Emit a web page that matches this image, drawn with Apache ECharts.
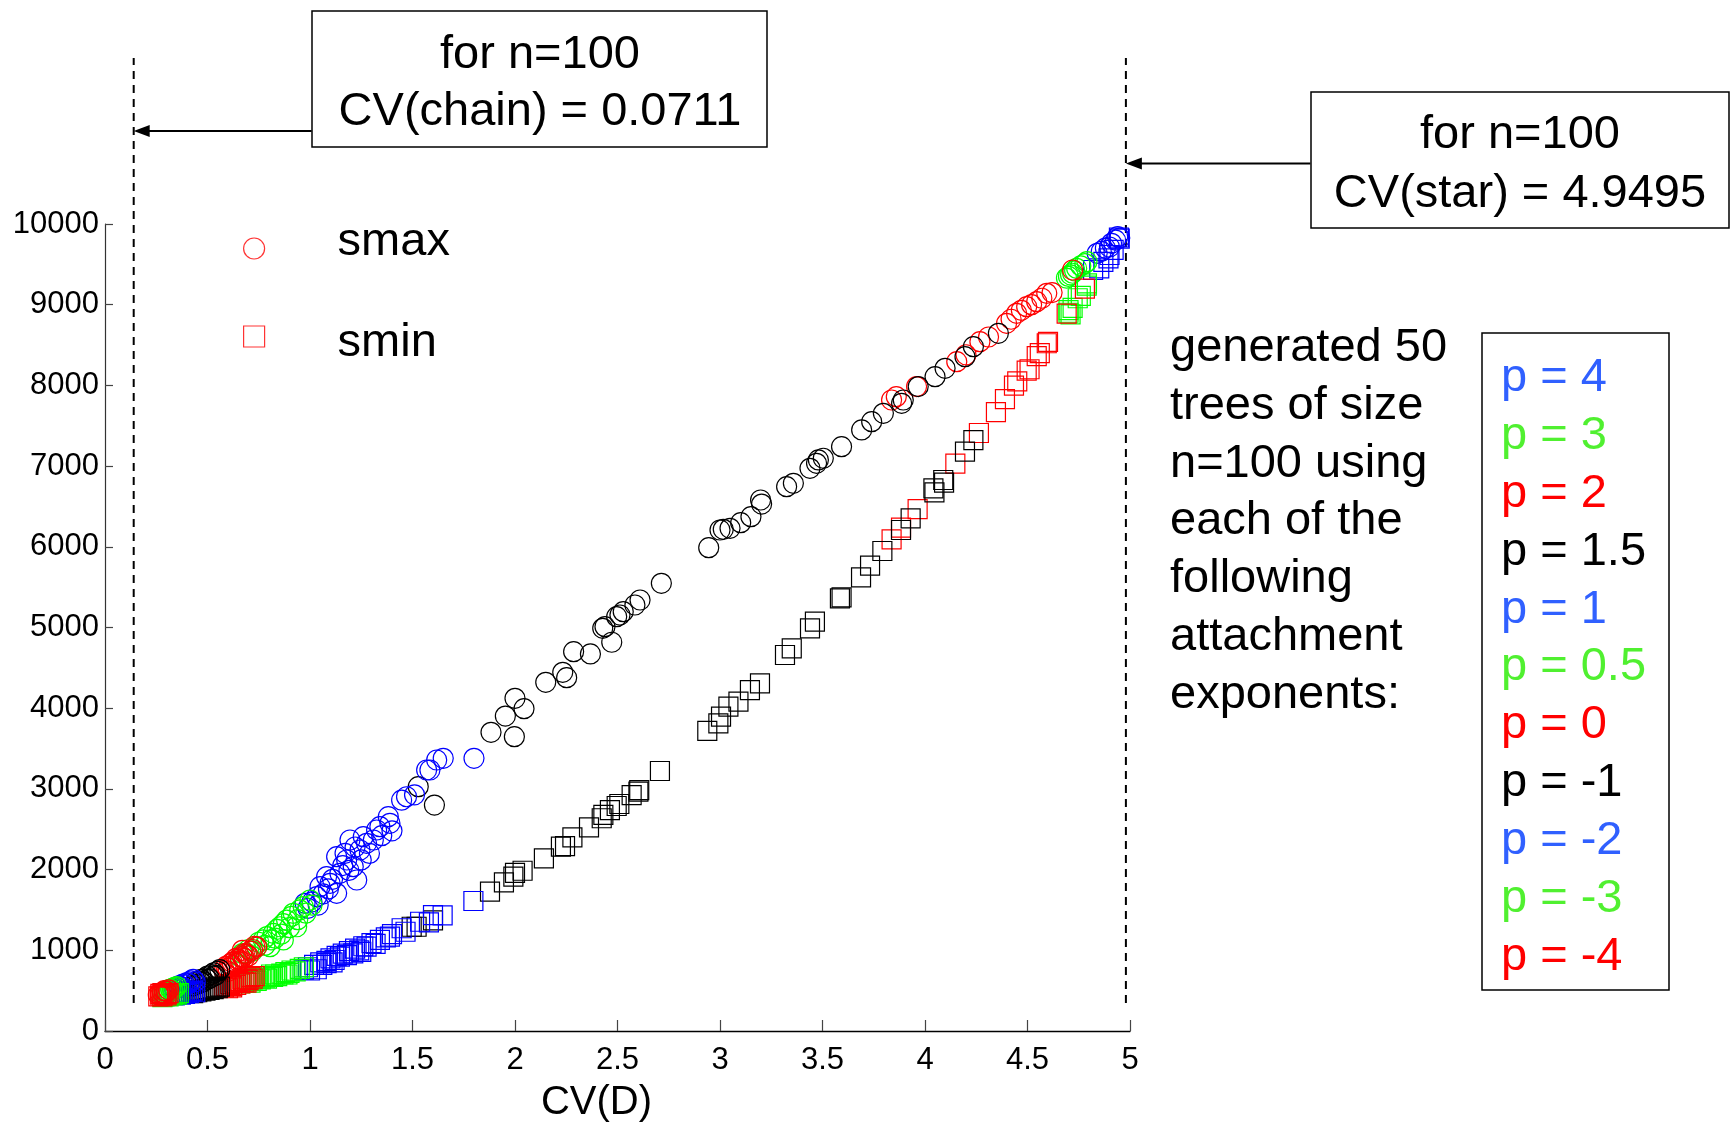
<!DOCTYPE html>
<html>
<head>
<meta charset="utf-8">
<title>smax / smin against CV(D)</title>
<script src="https://cdn.jsdelivr.net/npm/echarts@6/dist/echarts.min.js"></script>
<style>
  html, body { margin: 0; padding: 0; background: #fff; }
  #main { width: 1731px; height: 1128px; }
</style>
</head>
<body>
<div id="main"></div>
<script>
// attachment exponents, in plotting order
const exponents = ['4', '3', '2', '1.5', '1', '0.5', '0', '-1', '-2', '-3', '-4']
const markColors = ['#0000ff', '#00ff00', '#ff0000', '#000000', '#0000ff', '#00ff00', '#ff0000', '#000000', '#0000ff', '#00ff00', '#ff0000']
const textColors = ['#3060ff', '#50f030', '#ff0000', '#000000', '#3060ff', '#50f030', '#ff0000', '#000000', '#3060ff', '#50f030', '#ff0000']

// [CV(D), s]
const smaxP4 = [[4.84,9637],[4.86,9660],[4.88,9700],[4.90,9715],[4.91,9760],[4.93,9800],[4.94,9843],[4.95,9826]]
const sminP4 = [[4.82,9430],[4.85,9451],[4.87,9530],[4.895,9575],[4.90,9616],[4.92,9680],[4.946,9833],[4.95,9820]]

const smaxP3 = [[4.69,9330],[4.70,9350],[4.71,9370],[4.72,9390],[4.73,9420],[4.74,9450],[4.76,9480],[4.78,9510],[4.79,9533]]
const sminP3 = [[4.70,8900],[4.70,8934],[4.71,8880],[4.72,8960],[4.745,9080],[4.76,9110],[4.789,9236],[4.79,9265]]

const smaxP2 = [[3.837,7819],[3.86,7860],[3.959,7985],[4.155,8294],[4.20,8380],[4.268,8542],[4.31,8600],[4.398,8769],[4.42,8820],[4.447,8893],[4.47,8930],[4.496,8976],[4.52,9000],[4.545,9037],[4.57,9080],[4.594,9141],[4.62,9150],[4.72,9430]]
const sminP2 = [[3.837,6093],[3.883,6237],[3.964,6468],[4.148,7030],[4.263,7410],[4.346,7670],[4.39,7831],[4.434,7996],[4.45,8050],[4.496,8182],[4.51,8200],[4.545,8364],[4.56,8400],[4.594,8522],[4.60,8540],[4.691,8889],[4.78,9200]]

const smaxP15 = [[1.528,3027],[1.607,2800],[1.883,3701],[1.997,3647],[1.953,3903],[2.044,3994],[2.0,4122],[2.15,4321],[2.233,4445],[2.252,4378],[2.286,4700],[2.368,4672],[2.472,4817],[2.428,4990],[2.439,5010],[2.496,5134],[2.512,5155],[2.528,5196],[2.585,5279],[2.61,5341],[2.714,5548],[2.945,5989],[3.0,6208],[3.016,6217],[3.049,6229],[3.101,6299],[3.151,6373],[3.198,6580],[3.203,6530],[3.325,6745],[3.358,6787],[3.439,6973],[3.471,7035],[3.48,7076],[3.504,7097],[3.593,7241],[3.691,7448],[3.74,7551],[3.797,7654],[3.886,7778],[3.894,7819],[3.967,7985],[4.049,8108],[4.098,8212],[4.195,8356],[4.236,8480],[4.358,8645]]
const sminP15 = [[1.496,1292],[1.52,1292],[1.60,1371],[1.878,1726],[1.946,1842],[1.992,1912],[2.0,1960],[2.037,1986],[2.141,2140],[2.224,2284],[2.244,2292],[2.28,2400],[2.361,2524],[2.423,2636],[2.431,2677],[2.463,2738],[2.496,2788],[2.509,2813],[2.569,2924],[2.602,2965],[2.606,2986],[2.707,3222],[2.938,3718],[2.992,3813],[3.005,3895],[3.041,4019],[3.09,4081],[3.146,4225],[3.195,4308],[3.317,4659],[3.35,4742],[3.439,4990],[3.463,5072],[3.585,5362],[3.593,5374],[3.688,5622],[3.732,5766],[3.792,5948],[3.883,6208],[3.93,6353],[4.041,6725],[4.046,6675],[4.089,6828],[4.093,6795],[4.195,7179],[4.236,7323]]

const smaxP1 = [[0.976,1582],[0.99,1520],[1.01,1600],[1.033,1664],[1.04,1560],[1.049,1788],[1.064,1700],[1.081,1912],[1.09,1760],[1.098,1830],[1.11,1880],[1.13,1706],[1.13,2160],[1.146,1954],[1.16,2050],[1.171,2202],[1.179,2119],[1.19,1990],[1.195,2367],[1.211,2036],[1.22,2280],[1.228,1871],[1.244,2243],[1.25,2120],[1.26,2408],[1.276,2326],[1.29,2200],[1.309,2367],[1.325,2491],[1.341,2532],[1.35,2420],[1.382,2656],[1.39,2574],[1.40,2480],[1.447,2860],[1.471,2903],[1.51,2927],[1.569,3234],[1.585,3234],[1.618,3358],[1.65,3379],[1.80,3379]]
const sminP1 = [[0.97,760],[0.99,790],[1.00,750],[1.02,820],[1.033,765],[1.05,850],[1.06,820],[1.081,840],[1.08,870],[1.10,900],[1.11,850],[1.12,880],[1.13,930],[1.146,921],[1.16,960],[1.18,940],[1.19,990],[1.211,963],[1.22,1020],[1.24,1000],[1.25,980],[1.26,1050],[1.276,1045],[1.30,1090],[1.32,1080],[1.341,1128],[1.37,1160],[1.39,1169],[1.40,1200],[1.447,1273],[1.466,1230],[1.537,1354],[1.58,1347],[1.60,1437],[1.647,1433],[1.797,1611]]

const smaxP05 = [[0.659,921],[0.67,960],[0.691,963],[0.70,1010],[0.72,990],[0.74,1045],[0.75,1100],[0.772,1128],[0.78,1060],[0.79,1170],[0.805,1045],[0.81,1130],[0.821,1210],[0.83,1150],[0.84,1260],[0.854,1292],[0.86,1200],[0.87,1128],[0.87,1330],[0.886,1375],[0.90,1280],[0.91,1420],[0.918,1458],[0.935,1292],[0.94,1380],[0.95,1500],[0.967,1540],[0.98,1460],[1.0,1623],[1.01,1560]]
const sminP05 = [[0.66,590],[0.68,600],[0.70,620],[0.71,600],[0.72,640],[0.73,660],[0.74,620],[0.75,650],[0.76,640],[0.78,660],[0.79,650],[0.80,680],[0.81,700],[0.82,670],[0.83,700],[0.84,680],[0.86,710],[0.87,700],[0.88,730],[0.89,700],[0.90,720],[0.91,750],[0.93,740],[0.95,770],[0.97,790]]

const smaxP0 = [[0.58,760],[0.59,800],[0.60,780],[0.60,740],[0.61,830],[0.62,810],[0.62,850],[0.63,860],[0.64,840],[0.64,900],[0.65,890],[0.65,860],[0.66,870],[0.67,920],[0.67,1000],[0.68,900],[0.68,960],[0.69,950],[0.70,930],[0.71,990],[0.72,1010],[0.73,1050],[0.74,1040]]
const sminP0 = [[0.58,540],[0.59,560],[0.60,530],[0.61,580],[0.62,560],[0.62,540],[0.63,600],[0.64,570],[0.64,600],[0.65,620],[0.66,590],[0.66,610],[0.67,640],[0.68,610],[0.69,650],[0.69,600],[0.70,630],[0.71,670],[0.72,650],[0.73,680]]

const smaxPm1 = [[0.43,560],[0.44,600],[0.45,580],[0.46,620],[0.47,640],[0.47,600],[0.48,610],[0.49,660],[0.50,680],[0.50,640],[0.51,650],[0.52,700],[0.53,720],[0.53,680],[0.54,690],[0.55,740],[0.56,760]]
const sminPm1 = [[0.43,470],[0.44,490],[0.45,480],[0.46,500],[0.47,490],[0.48,510],[0.49,500],[0.50,520],[0.51,510],[0.52,530],[0.53,520],[0.54,540],[0.55,530],[0.56,550]]

const smaxPm2 = [[0.34,520],[0.35,540],[0.36,560],[0.37,550],[0.38,580],[0.38,540],[0.39,570],[0.40,600],[0.41,590],[0.42,620],[0.43,640],[0.44,610]]
const sminPm2 = [[0.34,440],[0.35,450],[0.36,460],[0.37,450],[0.38,470],[0.39,460],[0.40,480],[0.41,470],[0.42,490],[0.43,500],[0.44,480]]

const smaxPm3 = [[0.28,470],[0.29,490],[0.30,500],[0.31,510],[0.31,480],[0.32,520],[0.33,530],[0.33,500],[0.34,540],[0.35,550]]
const sminPm3 = [[0.28,420],[0.29,430],[0.30,440],[0.31,430],[0.32,450],[0.33,440],[0.34,460],[0.35,450],[0.36,470]]

const smaxPm4 = [[0.26,450],[0.27,470],[0.27,440],[0.28,480],[0.29,500],[0.29,460],[0.30,490],[0.31,510]]
const sminPm4 = [[0.26,430],[0.27,440],[0.27,460],[0.28,430],[0.28,470],[0.29,450],[0.30,460],[0.30,440],[0.31,470]]

const smaxSets = [smaxP4, smaxP3, smaxP2, smaxP15, smaxP1, smaxP05, smaxP0, smaxPm1, smaxPm2, smaxPm3, smaxPm4]
const sminSets = [sminP4, sminP3, sminP2, sminP15, sminP1, sminP05, sminP0, sminPm1, sminPm2, sminPm3, sminPm4]

// where the two reference lines sit in the picture, and their span in s
const chainLineX = 0.14
const starLineX = 4.98
const refLineSpan = [347, 12057]
// arrows: from the box edge to the line, at height s
const chainArrow = { from: 1.008, to: chainLineX, s: 11152 }
const starArrow = { from: 5.88, to: starLineX, s: 10750 }

const noteLines = ['generated 50', 'trees of size', 'n=100 using', 'each of the', 'following', 'attachment', 'exponents:']

const FONT = "'Liberation Sans', Arial, Helvetica, sans-serif"
let myChart = echarts.init(document.getElementById('main'))

let series = []
for (let i = 0; i < exponents.length; i++) {
  series.push({
    type: 'scatter', name: 'p=' + exponents[i] + ' smax', data: smaxSets[i],
    symbol: 'circle', symbolSize: 20, z: 3,
    itemStyle: { color: 'transparent', borderColor: markColors[i], borderWidth: 1.2, opacity: 1 }
  })
  series.push({
    type: 'scatter', name: 'p=' + exponents[i] + ' smin', data: sminSets[i],
    symbol: 'rect', symbolSize: 19, z: 3,
    itemStyle: { color: 'transparent', borderColor: markColors[i], borderWidth: 1.2, opacity: 1 }
  })
}
// legend stand-ins
series.push({ type: 'scatter', name: 'smax', data: [], symbol: 'circle', itemStyle: { color: 'transparent', borderColor: '#ff0000', borderWidth: 1.2 } })
series.push({ type: 'scatter', name: 'smin', data: [], symbol: 'rect', itemStyle: { color: 'transparent', borderColor: '#ff0000', borderWidth: 1.2 } })

// dashed reference lines
;[chainLineX, starLineX].forEach(function (x) {
  series.push({
    type: 'line', clip: false, symbol: 'none', silent: true, z: 2,
    data: [[x, refLineSpan[0]], [x, refLineSpan[1]]],
    lineStyle: { color: '#000', width: 2, type: [8, 6] }
  })
})

let graphic = []
// annotation boxes
graphic.push({ type: 'rect', shape: { x: 312, y: 11, width: 455, height: 136 }, style: { fill: '#fff', stroke: '#000', lineWidth: 1.5 }, z: 10 })
graphic.push({ type: 'text', style: { text: 'for n=100', x: 540, y: 55, textAlign: 'center', textVerticalAlign: 'middle', font: '47px ' + FONT, fill: '#000' }, z: 11 })
graphic.push({ type: 'text', style: { text: 'CV(chain) = 0.0711', x: 540, y: 112, textAlign: 'center', textVerticalAlign: 'middle', font: '47px ' + FONT, fill: '#000' }, z: 11 })
graphic.push({ type: 'rect', shape: { x: 1311, y: 92, width: 418, height: 136 }, style: { fill: '#fff', stroke: '#000', lineWidth: 1.5 }, z: 10 })
graphic.push({ type: 'text', style: { text: 'for n=100', x: 1520, y: 135, textAlign: 'center', textVerticalAlign: 'middle', font: '47px ' + FONT, fill: '#000' }, z: 11 })
graphic.push({ type: 'text', style: { text: 'CV(star) = 4.9495', x: 1520, y: 194, textAlign: 'center', textVerticalAlign: 'middle', font: '47px ' + FONT, fill: '#000' }, z: 11 })
// note text
noteLines.forEach(function (t, i) {
  graphic.push({ type: 'text', style: { text: t, x: 1170, y: 348 + i * 57.8, textAlign: 'left', textVerticalAlign: 'middle', font: '47px ' + FONT, fill: '#000' }, z: 11 })
})
// exponent key
graphic.push({ type: 'rect', shape: { x: 1482, y: 333, width: 187, height: 657 }, style: { fill: '#fff', stroke: '#000', lineWidth: 1.5 }, z: 10 })
exponents.forEach(function (p, i) {
  graphic.push({ type: 'text', style: { text: 'p = ' + p, x: 1501, y: 378 + i * 57.9, textAlign: 'left', textVerticalAlign: 'middle', font: '47px ' + FONT, fill: textColors[i] }, z: 11 })
})

let option = {
  animation: false,
  backgroundColor: '#fff',
  grid: { left: 105, right: 601, top: 224, bottom: 97, containLabel: false },
  legend: {
    orient: 'vertical', left: 238, top: 214, selectedMode: false,
    itemWidth: 21, itemHeight: 21, itemGap: 54,
    formatter: function (name) { return '{' + (name === 'smax' ? 'up' : 'dn') + '|' + name + '}' },
    textStyle: {
      fontSize: 47, fontFamily: FONT, color: '#000',
      rich: {
        up: { fontSize: 47, fontFamily: FONT, color: '#000', padding: [0, 0, 12, 68] },
        dn: { fontSize: 47, fontFamily: FONT, color: '#000', padding: [14, 0, 0, 68] }
      }
    },
    data: [
      { name: 'smax', icon: 'circle', itemStyle: { color: 'transparent', borderColor: '#ff0000', borderWidth: 1.2 } },
      { name: 'smin', icon: 'rect', itemStyle: { color: 'transparent', borderColor: '#ff0000', borderWidth: 1.2 } }
    ]
  },
  xAxis: {
    type: 'value', min: 0, max: 5, interval: 0.5,
    name: 'CV(D)', nameLocation: 'middle', nameGap: 52,
    nameTextStyle: { fontSize: 40, fontFamily: FONT, color: '#000', padding: [0, 42, 0, 0] },
    axisLine: { show: true, lineStyle: { color: '#000', width: 1.3 } },
    axisTick: { show: true, inside: true, length: 11, lineStyle: { color: '#444', width: 1.2 } },
    axisLabel: { fontSize: 31, fontFamily: FONT, color: '#000', margin: 14 },
    splitLine: { show: false }
  },
  yAxis: {
    type: 'value', min: 0, max: 10000, interval: 1000,
    axisLine: { show: true, lineStyle: { color: '#333', width: 1.2 } },
    axisTick: { show: true, inside: true, length: 8, lineStyle: { color: '#444', width: 1.2 } },
    axisLabel: { fontSize: 31, fontFamily: FONT, color: '#000', margin: 6, formatter: function (v) { return String(v) } },
    splitLine: { show: false }
  },
  series: series,
  graphic: graphic
}

myChart.setOption(option)

// arrows from the boxes to the reference lines, placed through the axes
;[chainArrow, starArrow].forEach(function (a) {
  const p0 = myChart.convertToPixel({ gridIndex: 0 }, [a.from, a.s])
  const p1 = myChart.convertToPixel({ gridIndex: 0 }, [a.to, a.s])
  graphic.push({ type: 'line', shape: { x1: p0[0], y1: p0[1], x2: p1[0] + 12, y2: p1[1] }, style: { stroke: '#000', lineWidth: 2 }, z: 9 })
  graphic.push({ type: 'polygon', shape: { points: [[p1[0], p1[1]], [p1[0] + 16, p1[1] - 6], [p1[0] + 16, p1[1] + 6]] }, style: { fill: '#000' }, z: 9 })
})
myChart.setOption({ graphic: graphic }, { replaceMerge: ['graphic'] })

window.onresize = function () {
  myChart.resize()
}
</script>
</body>
</html>
